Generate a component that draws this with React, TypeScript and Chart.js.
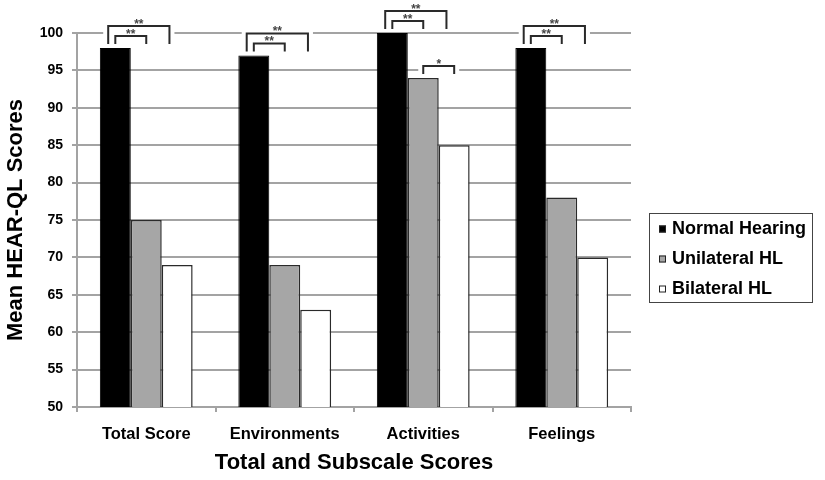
import React, { useEffect, useRef } from "react";
import { Chart, registerables } from "chart.js";

Chart.register(...registerables);

const categories = ["Total Score", "Environments", "Activities", "Feelings"];
const seriesLabels = ["Normal Hearing", "Unilateral HL", "Bilateral HL"];
const normalHearing = [98, 97, 100, 98];
const unilateralHL = [75, 69, 94, 78];
const bilateralHL = [69, 63, 85, 70];
const yMin = 50;
const yMax = 100;
const yStep = 5;
const xTitle = "Total and Subscale Scores";
const yTitle = "Mean HEAR-QL Scores";

// significance brackets: category index, from series index, to series index, mark
const sigCategory = [0, 0, 1, 1, 2, 2, 2, 3, 3];
const sigFrom = [0, 0, 0, 0, 0, 0, 1, 0, 0];
const sigTo = [2, 1, 2, 1, 2, 1, 2, 2, 1];
const sigMark = ["**", "**", "**", "**", "**", "**", "*", "**", "**"];

const FONT = "'Liberation Sans', Arial, sans-serif";
const GRID = "#a3a3a3";

const bracketPlugin = {
  id: "sigBrackets",
  afterDatasetsDraw(chart: any) {
    const ctx = chart.ctx;
    const items = sigCategory.map((cat, i) => {
      const from = sigFrom[i];
      const to = sigTo[i];
      const span = to - from;
      const elFrom = chart.getDatasetMeta(from).data[cat];
      const elTo = chart.getDatasetMeta(to).data[cat];
      const bw = elFrom.width;
      let topY = Infinity;
      for (let s = from; s <= to; s++) {
        topY = Math.min(topY, chart.getDatasetMeta(s).data[cat].y);
      }
      const left = elFrom.x - 0.23 * bw * (span - 1);
      const right = elTo.x - 0.25 * bw * (span - 1);
      const legs = topY - 4;
      const top = legs - (span === 1 ? 8 : 18);
      return { left, right, legs, top, mark: sigMark[i] };
    });
    ctx.save();
    ctx.fillStyle = "#ffffff";
    items.forEach((b) => {
      ctx.fillRect(b.left - 5, b.top - 14, b.right - b.left + 10, b.legs - b.top + 15);
    });
    ctx.strokeStyle = "#2a2a2a";
    ctx.lineWidth = 2;
    ctx.lineJoin = "miter";
    items.forEach((b) => {
      ctx.beginPath();
      ctx.moveTo(b.left, b.legs);
      ctx.lineTo(b.left, b.top);
      ctx.lineTo(b.right, b.top);
      ctx.lineTo(b.right, b.legs);
      ctx.stroke();
    });
    ctx.fillStyle = "#444";
    ctx.font = `bold 12px ${FONT}`;
    ctx.textAlign = "center";
    ctx.textBaseline = "alphabetic";
    items.forEach((b) => {
      ctx.fillText(b.mark, (b.left + b.right) / 2, b.top + 2);
    });
    ctx.restore();
  },
};

const legendPlugin = {
  id: "boxLegend",
  afterDraw(chart: any) {
    const ctx = chart.ctx;
    ctx.save();
    ctx.strokeStyle = "#444";
    ctx.lineWidth = 1;
    ctx.strokeRect(649.5, 213.5, 163, 89);
    ctx.font = `bold 18px ${FONT}`;
    ctx.textAlign = "left";
    ctx.textBaseline = "middle";
    chart.data.datasets.forEach((ds: any, i: number) => {
      const cy = 229 + i * 30;
      ctx.fillStyle = ds.backgroundColor;
      ctx.fillRect(659, cy - 3.5, 7, 7);
      ctx.strokeStyle = "#222";
      ctx.strokeRect(659.5, cy - 3, 6, 6);
      ctx.fillStyle = "#000";
      ctx.fillText(ds.label, 672, cy);
    });
    ctx.restore();
  },
};

export default function App() {
  const ref = useRef<HTMLCanvasElement>(null);
  useEffect(() => {
    if (!ref.current) return;
    const chart = new Chart(ref.current, {
      type: "bar",
      data: {
        labels: categories,
        datasets: [
          {
            label: seriesLabels[0],
            data: normalHearing,
            backgroundColor: "#000000",
            borderColor: "#000000",
            borderWidth: 1,
          },
          {
            label: seriesLabels[1],
            data: unilateralHL,
            backgroundColor: "#a6a6a6",
            borderColor: "#2a2a2a",
            borderWidth: 1.5,
          },
          {
            label: seriesLabels[2],
            data: bilateralHL,
            backgroundColor: "#ffffff",
            borderColor: "#2a2a2a",
            borderWidth: 1.5,
          },
        ],
      },
      options: {
        responsive: false,
        animation: false,
        events: [],
        layout: { padding: { left: 0, right: 194, top: 33, bottom: 0 } },
        datasets: { bar: { categoryPercentage: 0.67, barPercentage: 1.0 } },
        plugins: { legend: { display: false }, tooltip: { enabled: false } },
        scales: {
          x: {
            afterFit: (s: any) => {
              s.height = 73;
            },
            grid: {
              display: true,
              drawOnChartArea: false,
              drawTicks: true,
              tickLength: 5,
              color: GRID,
              lineWidth: 2,
              offset: true,
            },
            border: { display: true, color: GRID, width: 2 },
            ticks: {
              color: "#000",
              font: { family: FONT, size: 16.5, weight: "bold" },
              padding: 13,
              maxRotation: 0,
            },
            title: {
              display: true,
              text: xTitle,
              color: "#000",
              font: { family: FONT, size: 22, weight: "bold" },
              padding: { top: 0, bottom: 4 },
            },
          },
          y: {
            min: yMin,
            max: yMax,
            afterFit: (s: any) => {
              s.width = 77;
            },
            grid: {
              color: GRID,
              lineWidth: 2,
              drawTicks: true,
              tickLength: 5,
            },
            border: { display: true, color: GRID, width: 2 },
            ticks: {
              stepSize: yStep,
              color: "#000",
              font: { family: FONT, size: 14, weight: "bold" },
              padding: 9,
            },
            title: {
              display: true,
              text: yTitle,
              color: "#000",
              font: { family: FONT, size: 22, weight: "bold" },
              padding: { top: 3, bottom: 0 },
            },
          },
        },
      },
      plugins: [bracketPlugin, legendPlugin],
    });
    return () => chart.destroy();
  }, []);
  return (
    <div style={{ position: "absolute", left: 0, top: 0, width: 825, height: 480, background: "#fff" }}>
      <canvas ref={ref} width={825} height={480} style={{ display: "block" }} />
    </div>
  );
}
